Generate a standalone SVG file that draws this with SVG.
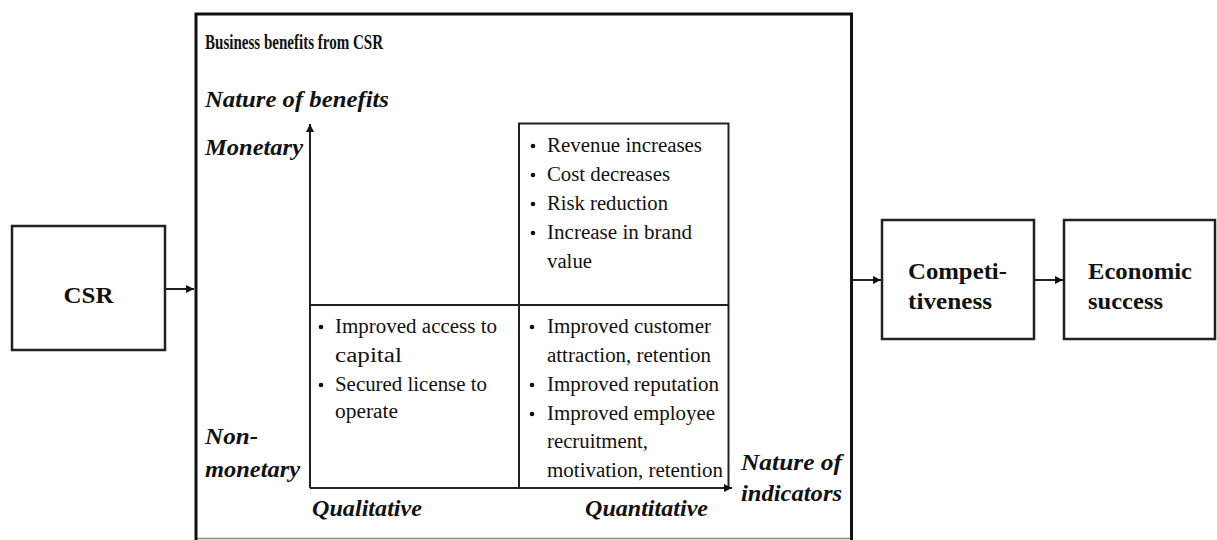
<svg xmlns="http://www.w3.org/2000/svg" width="1217" height="540" viewBox="0 0 1217 540" font-family="'Liberation Serif', Tinos, 'Times New Roman', Times, serif">
<style>
  text { font-family: "Liberation Serif", Tinos, "Times New Roman", Times, serif; fill: #111; }
  .t { font-weight: bold; font-size: 21px; }
  .b { font-weight: bold; font-size: 24px; }
  .bi { font-weight: bold; font-style: italic; font-size: 23px; }
  .r { font-size: 20px; }
  .box { fill: #fff; stroke: #222; stroke-width: 2.5; }
  .ln { stroke: #222; stroke-width: 2; fill: none; }
  .dot { fill: #111; }
</style>
<defs>
  <marker id="ah" viewBox="0 0 10 10" refX="10" refY="5" markerWidth="9" markerHeight="8" markerUnits="userSpaceOnUse" orient="auto">
    <path d="M0,0 L10,5 L0,10 z" fill="#111"/>
  </marker>
</defs>
<rect width="1217" height="540" fill="#fff"/>

<g id="csr">
  <rect class="box" x="12" y="226" width="153" height="124"/>
  <text class="b" x="88.5" y="303" text-anchor="middle" textLength="50" lengthAdjust="spacingAndGlyphs">CSR</text>
</g>

<g id="business-benefits">
  <line x1="195" y1="538.5" x2="852" y2="538.5" stroke="#888" stroke-width="1.5"/>
  <path d="M196,540 L196,14 L851.5,14 L851.5,540" fill="none" stroke="#111" stroke-width="3"/>
  <text class="t" x="205" y="49" textLength="178" lengthAdjust="spacingAndGlyphs">Business benefits from CSR</text>
  <text class="bi" x="205" y="107" textLength="184" lengthAdjust="spacingAndGlyphs">Nature of benefits</text>
  <text class="bi" x="205" y="155" textLength="98" lengthAdjust="spacingAndGlyphs">Monetary</text>
  <text class="bi" x="205" y="444" textLength="53" lengthAdjust="spacingAndGlyphs">Non-</text>
  <text class="bi" x="205" y="477" textLength="95" lengthAdjust="spacingAndGlyphs">monetary</text>
  <text class="bi" x="312" y="516" textLength="110" lengthAdjust="spacingAndGlyphs">Qualitative</text>
  <text class="bi" x="585" y="516" textLength="123" lengthAdjust="spacingAndGlyphs">Quantitative</text>
  <text class="bi" x="741" y="470" textLength="101" lengthAdjust="spacingAndGlyphs">Nature of</text>
  <text class="bi" x="741" y="501" textLength="101" lengthAdjust="spacingAndGlyphs">indicators</text>
</g>

<g id="quadrant-monetary-quantitative">
  <path class="ln" d="M519,304.5 L519,123.5 L728.5,123.5 L728.5,304.5"/>
  <circle class="dot" cx="533" cy="146" r="2.3"/>
  <text class="r" x="547" y="152" textLength="155" lengthAdjust="spacingAndGlyphs">Revenue increases</text>
  <circle class="dot" cx="533" cy="175" r="2.3"/>
  <text class="r" x="547" y="181" textLength="123" lengthAdjust="spacingAndGlyphs">Cost decreases</text>
  <circle class="dot" cx="533" cy="204" r="2.3"/>
  <text class="r" x="547" y="210" textLength="121" lengthAdjust="spacingAndGlyphs">Risk reduction</text>
  <circle class="dot" cx="533" cy="233" r="2.3"/>
  <text class="r" x="547" y="239" textLength="145" lengthAdjust="spacingAndGlyphs">Increase in brand</text>
  <text class="r" x="547" y="268" textLength="45" lengthAdjust="spacingAndGlyphs">value</text>
</g>

<g id="quadrant-nonmonetary-qualitative">
  <line class="ln" x1="310" y1="305" x2="729" y2="305" stroke-width="2.5"/>
  <circle class="dot" cx="321" cy="327" r="2.3"/>
  <text class="r" x="335" y="333" textLength="162" lengthAdjust="spacingAndGlyphs">Improved access to</text>
  <text class="r" x="335" y="362" textLength="67" lengthAdjust="spacingAndGlyphs">capital</text>
  <circle class="dot" cx="321" cy="385" r="2.3"/>
  <text class="r" x="335" y="391" textLength="152" lengthAdjust="spacingAndGlyphs">Secured license to</text>
  <text class="r" x="335" y="418" textLength="63" lengthAdjust="spacingAndGlyphs">operate</text>
</g>

<g id="quadrant-nonmonetary-quantitative">
  <line class="ln" x1="519" y1="304" x2="519" y2="488"/>
  <line class="ln" x1="728.5" y1="304" x2="728.5" y2="488"/>
  <circle class="dot" cx="532" cy="327" r="2.3"/>
  <text class="r" x="547" y="333" textLength="164" lengthAdjust="spacingAndGlyphs">Improved customer</text>
  <text class="r" x="547" y="362" textLength="164" lengthAdjust="spacingAndGlyphs">attraction, retention</text>
  <circle class="dot" cx="532" cy="385" r="2.3"/>
  <text class="r" x="547" y="391" textLength="172" lengthAdjust="spacingAndGlyphs">Improved reputation</text>
  <circle class="dot" cx="532" cy="414" r="2.3"/>
  <text class="r" x="547" y="420" textLength="168" lengthAdjust="spacingAndGlyphs">Improved employee</text>
  <text class="r" x="547" y="448" textLength="101" lengthAdjust="spacingAndGlyphs">recruitment,</text>
  <text class="r" x="547" y="477" textLength="176" lengthAdjust="spacingAndGlyphs">motivation, retention</text>
</g>

<g id="competitiveness">
  <rect class="box" x="882" y="220" width="152" height="119"/>
  <text class="b" x="908" y="279" textLength="99" lengthAdjust="spacingAndGlyphs">Competi-</text>
  <text class="b" x="908" y="309" textLength="84" lengthAdjust="spacingAndGlyphs">tiveness</text>
</g>

<g id="economic-success">
  <rect class="box" x="1064" y="220" width="151" height="119"/>
  <text class="b" x="1088" y="279" textLength="104" lengthAdjust="spacingAndGlyphs">Economic</text>
  <text class="b" x="1088" y="309" textLength="75" lengthAdjust="spacingAndGlyphs">success</text>
</g>

<g id="connectors">
  <line class="ln" x1="310" y1="488" x2="310" y2="124" marker-end="url(#ah)"/>
  <line class="ln" x1="310" y1="488" x2="732" y2="488" marker-end="url(#ah)"/>
  <line class="ln" x1="165" y1="289" x2="194" y2="289" marker-end="url(#ah)"/>
  <line class="ln" x1="853" y1="280" x2="881" y2="280" marker-end="url(#ah)"/>
  <line class="ln" x1="1035" y1="280" x2="1063" y2="280" marker-end="url(#ah)"/>
</g>
</svg>
